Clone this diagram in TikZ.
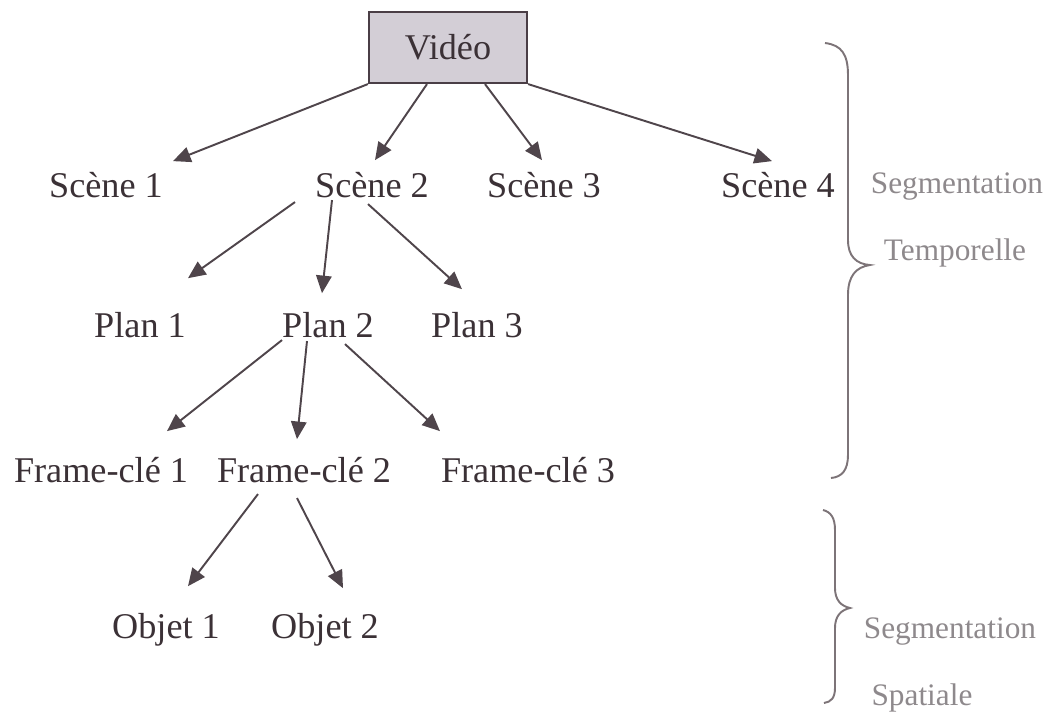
\documentclass[tikz,border=0pt]{standalone}
\usepackage{fontspec}
\setmainfont{Liberation Serif}
\usetikzlibrary{arrows.meta,calc}
\definecolor{inkc}{HTML}{3B3136}
\definecolor{notec}{HTML}{8E898C}
\definecolor{arrc}{HTML}{4F454B}
\definecolor{boxc}{HTML}{D3CED6}
\definecolor{boxline}{HTML}{4A3E46}
\definecolor{bracec}{HTML}{7D7478}
\begin{document}
\begin{tikzpicture}
  [x=0.01cm,y=-0.01cm,
   every node/.style={inner sep=0pt,anchor=base,text=inkc,font=\fontsize{10.3}{12}\selectfont},
   note/.style={text=notec,font=\fontsize{8.9}{11}\selectfont},
   arr/.style={draw=arrc,line width=0.55pt,-{Triangle[length=5pt,width=4.4pt]}},
   bracel/.style={draw=bracec,line width=0.55pt}]
    \useasboundingbox (0,0) rectangle (1044,714);

    \node (video) [anchor=center,draw=boxline,fill=boxc,line width=0.6pt,
                   minimum width=1.58cm,minimum height=0.71cm] at (448,47.5) {Vidéo};

    \node (sc1) at (106,197) {Scène 1};
    \node (sc2) at (372,197) {Scène 2};
    \node (sc3) at (544,197) {Scène 3};
    \node (sc4) at (778,197) {Scène 4};

    \node (pl1) at (140,337) {Plan 1};
    \node (pl2) at (328,337) {Plan 2};
    \node (pl3) at (477,337) {Plan 3};

    \node (fc1) at (101,482) {Frame-clé 1};
    \node (fc2) at (304,482) {Frame-clé 2};
    \node (fc3) at (528,482) {Frame-clé 3};

    \node (ob1) at (166,638) {Objet 1};
    \node (ob2) at (325,638) {Objet 2};

    \foreach \a/\ax/\ay/\b/\bx/\by in {
        video.south west/0/0/sc1.north/67/-10,
        video.south/-21/0/sc2.north/3/-11,
        video.south/37/0/sc3.north/-2/-11,
        video.south east/0/0/sc4.north/-6/-10,
        sc2.south/-77/4/pl1.north/48/-33,
        sc2.south/-40/2/pl2.north/-6/-18,
        sc2.south/-4/6/pl3.north/-15/-22,
        pl2.south/-46/2/fc1.north/66/-25,
        pl2.south/-21/3/fc2.north/-7/-17,
        pl2.south/17/6/fc3.north/-88/-25,
        fc2.south/-46/11/ob1.north/22/-26,
        fc2.south/-7/15/ob2.north/18/-24}
      \draw[arr] ($(\a)+(\ax,\ay)$) -- ($(\b)+(\bx,\by)$);

    \draw[bracel] (825,43) .. controls (842,45) and (848,55) .. (848,75)
      -- (848,240) .. controls (848,256) and (856,264) .. (870,265)
      .. controls (856,267) and (848,276) .. (848,295)
      -- (848,455) .. controls (848,470) and (842,477) .. (831,478);
    \draw[bracel] (823,510) .. controls (831,512) and (835,518) .. (835,530)
      -- (835,588) .. controls (835,600) and (841,606) .. (850,608)
      .. controls (841,610) and (835,616) .. (835,628)
      -- (835,688) .. controls (835,698) and (831,702) .. (824,703);

    \node (segT) [note] at (957,193) {Segmentation};
    \node (temp) [note] at (955,260) {Temporelle};
    \node (segS) [note] at (950,638) {Segmentation};
    \node (spat) [note] at (922,705) {Spatiale};
\end{tikzpicture}
\end{document}
